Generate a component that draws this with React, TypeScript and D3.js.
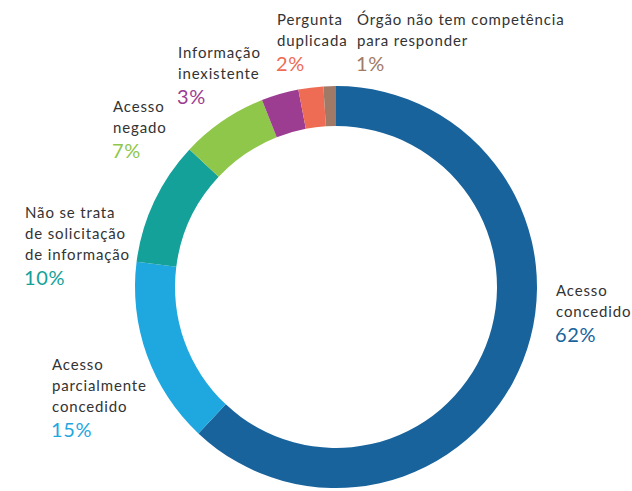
import React from 'react'
import * as d3 from 'd3'

const categories = [
    'Acesso concedido',
    'Acesso parcialmente concedido',
    'Não se trata de solicitação de informação',
    'Acesso negado',
    'Informação inexistente',
    'Pergunta duplicada',
    'Órgão não tem competência para responder',
];
const values = [62, 15, 10, 7, 3, 2, 1];
const colors = ['#18639c', '#1fa7df', '#13a19a', '#8fc74a', '#9c3d92', '#ee6c53', '#a07a66'];

// label text broken into lines as in the original, and where each block sits
const labelLines = [
    ['Acesso', 'concedido'],
    ['Acesso', 'parcialmente', 'concedido'],
    ['Não se trata', 'de solicitação', 'de informação'],
    ['Acesso', 'negado'],
    ['Informação', 'inexistente'],
    ['Pergunta', 'duplicada'],
    ['Órgão não tem competência', 'para responder'],
];
const labelPos = [
    {x: 556, y: 296},
    {x: 52, y: 370},
    {x: 25, y: 218},
    {x: 113, y: 112},
    {x: 178, y: 58},
    {x: 277, y: 25},
    {x: 357, y: 25},
];

const width = 632;
const height = 491;
const cx = 336;
const cy = 287;
const outerR = 201;
const innerR = 161;
const font = 'Lato, "Open Sans", sans-serif';

export default function App() {
    const pie = d3.pie<number>().sort(null).value(d => d);
    const arcs = pie(values);
    const arc = d3.arc<d3.PieArcDatum<number>>()
        .innerRadius(innerR)
        .outerRadius(outerR);

    return (
        <svg width={width} height={height}
             style={{position: 'absolute', left: 0, top: 0, background: '#fff'}}>
            <g transform={`translate(${cx},${cy})`}>
                {arcs.map((a, i) => (
                    <path key={categories[i]} d={arc(a) || ''} fill={colors[i]}/>
                ))}
            </g>
            {labelLines.map((lines, i) => {
                const p = labelPos[i];
                return (
                    <g key={categories[i]} fontFamily={font}>
                        {lines.map((t, j) => (
                            <text key={j} x={p.x} y={p.y + j * 21} fontSize={15}
                                  fill="#333" letterSpacing={0.85}>{t}</text>
                        ))}
                        <text x={p.x - 1} y={p.y + lines.length * 21 + 4} fontSize={20}
                              fill={colors[i]} letterSpacing={0.6}>{values[i]}%</text>
                    </g>
                );
            })}
        </svg>
    );
}
